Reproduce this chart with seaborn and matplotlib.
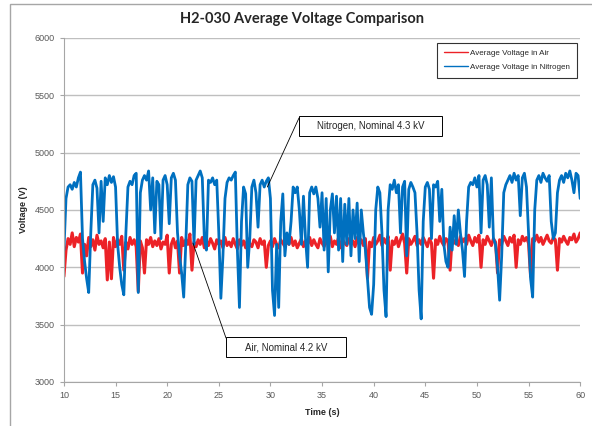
import numpy as np
import pandas as pd
import seaborn as sns
import matplotlib.pyplot as plt
from matplotlib.patches import Rectangle

# time axis, 0.2 s steps from 10 to 60 s
time_s = np.round(np.arange(10.0, 60.01, 0.2), 1)

volt_air = [
    3920, 4150, 4250, 4200, 4300, 4180, 4260, 4220, 4290, 3950,
    4200, 4100, 4260, 4180, 4240, 4150, 4280, 4200, 4230, 4170,
    4250, 3890, 4220, 3900, 4260, 4180, 4240, 4200, 4270, 3975,
    4220, 4160, 4260, 4200, 4240, 4180, 3790, 4230, 4170, 3950,
    4240, 4200, 4260, 4180, 4230, 4190, 4250, 4160, 4220, 4200,
    4280, 3950, 4200, 4250, 4170, 4230, 3950, 4260, 4190, 4240,
    4200, 4290, 3975, 4220, 4180, 4240, 4200, 4260, 4170, 4230,
    4190, 4250, 4210, 4160, 4240, 4200, 4230, 4170, 4260, 4190,
    4220, 4180, 4250, 4200, 4160, 4240, 4190, 4230, 4170, 4250,
    4200, 4180, 4240, 4220, 4170, 4250, 4200, 4230, 4000, 4190,
    4230, 4180, 4250, 4200, 4170, 4240, 4210, 4180, 4230, 4200,
    4260, 4190, 4230, 4170, 4210, 4250, 4180, 4230, 4200, 4260,
    4190, 4240, 4200, 4170, 4250, 4210, 4180, 4230, 4200, 4270,
    4180, 4230, 4200, 4260, 4170, 4240, 4210, 4190, 4250, 4200,
    4230, 4180, 4260, 4200, 4240, 4190, 4250, 3905, 4220, 4180,
    4260, 4200, 4230, 4280, 4190, 4250, 4210, 4270, 3975, 4230,
    4200, 4260, 4180, 4240, 4290, 4210, 3950, 4250, 4200, 4230,
    4270, 4190, 4240, 4200, 4260, 4220, 4180, 4250, 4210, 3905,
    4240, 4200, 4270, 4220, 4190, 4250, 4230, 3975, 4260, 4210,
    4240, 4190, 4270, 4220, 4250, 4200, 4280, 4230, 4190, 4260,
    4220, 4280, 4000, 4240, 4200, 4270, 4230, 4190, 4250, 4220,
    3950, 4240, 4200, 4270, 4230, 4190, 4260, 4220, 4280, 4000,
    4240, 4200, 4270, 4230, 4260, 4210, 3920, 4250, 4230, 4280,
    4220, 4260, 4200, 4240, 4280, 4230, 4210, 4260, 4240, 3975,
    4250, 4220, 4270, 4230, 4200, 4260, 4240, 4290, 4220, 4250,
    4300,
]

volt_n2 = [
    4150, 4600, 4700, 4720, 4680, 4740, 4700, 4780, 4830, 4250,
    4050, 3900, 3780, 4300, 4720, 4760, 4690, 4300, 4750, 4400,
    4780, 4720, 4800, 4740, 4790, 4700, 4200, 4000, 3850, 3760,
    4300, 4700, 4750, 4720, 4800, 4820, 3780, 4650, 4760, 4800,
    4760, 4840, 4500, 4780, 4300, 4750, 4720, 4250, 4760, 4800,
    4720, 4380, 4780, 4820, 4760, 4300, 4100, 3950, 3740, 4200,
    4720, 4780, 4750, 4200, 4760, 4800, 4840, 4780, 4250, 4150,
    4760, 4740, 4780, 4720, 4760, 4300, 3730, 4100, 4600, 4740,
    4780, 4760, 4800, 4830, 4150, 3650, 4400, 4700, 4640, 4000,
    4250, 4700, 4760, 4650, 4350, 4720, 4760, 4700, 4750, 4780,
    4600, 3800, 3580, 4200, 3650, 4400, 4640, 4100, 4300, 4200,
    4400, 4700, 4650, 4700, 4500, 4200, 4620, 4250, 4000, 4650,
    4700, 4640, 4700, 4600, 4350, 4650, 4150, 4600, 3960, 4500,
    4640, 4300, 4620, 4150, 4600, 4050, 4550, 4200, 4600, 4100,
    4500, 4250, 4560, 4050, 4500, 4300, 4150, 3900, 3650, 3590,
    3850, 4500, 4700, 4650, 4300, 3800, 3570, 4500, 4720, 4680,
    4760, 4650, 4720, 4300, 4700, 4750, 4100, 4680, 4740, 4700,
    4650, 4300, 3800, 3550, 4400, 4700, 4740, 4680, 4250, 4720,
    4700, 4750, 4400, 4680, 4200, 4050, 4000, 4350, 4150, 4450,
    4200, 4500, 4300, 4150, 3920, 4400, 4700, 4740, 4720, 4780,
    4700, 4800, 4300, 4760, 4800, 4720, 4350, 4780, 4250, 4200,
    4000, 3713, 4100, 4650, 4720, 4760, 4800, 4740, 4820, 4760,
    4800, 4450, 4780, 4820, 4700, 4300, 3900, 3740, 4500, 4760,
    4800, 4740, 4820, 4780, 4750, 4800, 4400, 4250, 4300, 4650,
    4760, 4800, 4740, 4820, 4780, 4840, 4760, 4650, 4820, 4800,
    4600,
]

y_ticks = [3000, 3500, 4000, 4500, 5000, 5500, 6000]
x_ticks = [10, 15, 20, 25, 30, 35, 40, 45, 50, 55, 60]

sns.set_style("white")
plt.rcParams['font.family'] = ['Liberation Sans', 'DejaVu Sans']

W, H = 592, 426
fig = plt.figure(figsize=(W / 100, H / 100), dpi=100)
ax = fig.add_axes([0.108, 0.1033, 0.872, 0.8077])


def px_box(x0, y0, x1, y1):
    # rectangle given in picture pixels (top-left origin) -> figure fraction
    return Rectangle((x0 / W, 1 - y1 / H), (x1 - x0) / W, (y1 - y0) / H,
                     transform=fig.transFigure, fill=True, fc='white',
                     ec='black', lw=0.7, zorder=5)


# outer chart frame
fig.patches.append(Rectangle((0.017, -0.05), 1.2, 1.04, transform=fig.transFigure,
                             fill=False, edgecolor='#a6a6a6', linewidth=1.0))

df = pd.DataFrame({'t': time_s, 'air': volt_air, 'n2': volt_n2})
sns.lineplot(data=df, x='t', y='air', ax=ax, color='#ec2227', linewidth=2.2,
             label='Average Voltage in Air')
sns.lineplot(data=df, x='t', y='n2', ax=ax, color='#0070c0', linewidth=2.0,
             label='Average Voltage in Nitrogen')

ax.set_xlim(10, 60)
ax.set_ylim(3000, 6000)
ax.set_xticks(x_ticks)
ax.set_yticks(y_ticks)
ax.yaxis.grid(True, color='#bfbfbf', linewidth=1.0)
ax.set_axisbelow(True)
for s in ['top', 'right']:
    ax.spines[s].set_visible(False)
for s in ['left', 'bottom']:
    ax.spines[s].set_color('#a6a6a6')
ax.tick_params(axis='both', labelsize=6.5, labelcolor='#595959', color='#a6a6a6',
               length=3, width=0.8, direction='out', left=True, bottom=True)

fig.text(302 / W, 1 - 19 / H, 'H2-030 Average Voltage Comparison', fontsize=10.5,
         fontweight='bold', ha='center', va='center', family=['Lato', 'DejaVu Sans'])
ax.set_xlabel('Time (s)', fontsize=6.5, fontweight='bold', labelpad=6)
ax.set_ylabel('Voltage (V)', fontsize=6.5, fontweight='bold', labelpad=5)

leg = ax.legend(loc='upper right', bbox_to_anchor=(0.998, 0.992), fontsize=5.8,
                frameon=True, fancybox=False, handlelength=3.0, borderpad=0.8,
                labelspacing=0.8, handletextpad=0.3, borderaxespad=0.3)
leg.get_frame().set_edgecolor('#000000')
leg.get_frame().set_linewidth(0.8)
for h in leg.get_lines():
    h.set_linewidth(1.0)

# callout boxes and leader lines (pixel geometry of the picture)
fig.patches.append(px_box(299, 116, 442, 136))
fig.text(370.5 / W, 1 - 126 / H, 'Nitrogen, Nominal 4.3 kV', fontsize=7,
         ha='center', va='center', zorder=6)
fig.patches.append(px_box(226, 337, 346, 357))
fig.text(286 / W, 1 - 347 / H, 'Air, Nominal 4.2 kV', fontsize=7,
         ha='center', va='center', zorder=6)

ax.annotate('', xy=(29.7, 4700), xytext=(299 / W, 1 - 118 / H),
            textcoords='figure fraction',
            arrowprops=dict(arrowstyle='-', color='black', lw=0.6, shrinkA=0, shrinkB=0))
ax.annotate('', xy=(22.5, 4210), xytext=(226 / W, 1 - 338 / H),
            textcoords='figure fraction',
            arrowprops=dict(arrowstyle='-', color='black', lw=0.6, shrinkA=0, shrinkB=0))

fig.savefig('out.png', dpi=100)
